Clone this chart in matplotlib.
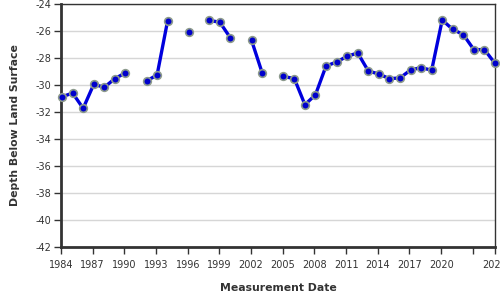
import numpy as np
import matplotlib
matplotlib.use("Agg")
import matplotlib.pyplot as plt

# measurement dates (decimal years) and depth below land surface (ft); NaN = no reading
dates = [1984.1, 1985.1, 1986.1, 1987.1, 1988.1, 1989.1, 1990.1, 1991.1,
         1992.1, 1993.1, 1994.1, 1995.1, 1996.1, 1997.1, 1998.0, 1999.05,
         2000.05, 2001.05, 2002.05, 2003.05, 2004.05, 2005.05, 2006.1, 2007.1,
         2008.1, 2009.1, 2010.1, 2011.1, 2012.1, 2013.1, 2014.1, 2015.1,
         2016.1, 2017.1, 2018.1, 2019.1, 2020.1, 2021.1, 2022.1, 2023.1,
         2024.1, 2025.1]
depths = [-30.87, -30.6, -31.73, -29.95, -30.17, -29.53, -29.1, np.nan,
          -29.7, -29.26, -25.23, np.nan, -26.1, np.nan, -25.2, -25.36,
          -26.52, np.nan, -26.7, -29.1, np.nan, -29.36, -29.53, -31.46,
          -30.72, -28.59, -28.3, -27.87, -27.63, -28.96, -29.19, -29.53,
          -29.48, -28.89, -28.71, -28.91, -25.19, -25.88, -26.27, -27.38,
          -27.38, -28.4]

x_ticks = [1984, 1987, 1990, 1993, 1996, 1999, 2002, 2005, 2008, 2011,
           2014, 2017, 2020, 2023, 2025.1]
x_tick_labels = ["1984", "1987", "1990", "1993", "1996", "1999", "2002",
                 "2005", "2008", "2011", "2014", "2017", "2020", "", "2025"]
y_ticks = list(range(-42, -23, 2))

plt.rcParams["font.family"] = ["DejaVu Sans"]

fig = plt.figure(figsize=(5, 3), dpi=100)
ax = fig.add_axes([0.122, 0.1767, 0.868, 0.81])

ax.plot(dates, depths, color="#0000dd", linewidth=2.4, marker="o",
        markersize=5.5, markerfacecolor="#0000cc", markeredgecolor="#8c9a8c",
        markeredgewidth=1.2, clip_on=False, zorder=3)

ax.set_xlim(1984.0, 2025.1)
ax.set_ylim(-42, -24)
ax.set_xticks(x_ticks)
ax.set_xticklabels(x_tick_labels)
ax.set_yticks(y_ticks)
ax.set_yticklabels([str(v) for v in y_ticks])

ax.grid(axis="y", color="#d6d6d6", linewidth=1)
ax.set_axisbelow(True)

for side in ["left", "bottom"]:
    ax.spines[side].set_linewidth(2)
    ax.spines[side].set_color("#333333")
for side in ["top", "right"]:
    ax.spines[side].set_linewidth(1)
    ax.spines[side].set_color("#333333")

ax.tick_params(axis="both", length=5, width=1, color="#333333",
               labelsize=7, labelcolor="#333333")
ax.tick_params(axis="x", pad=4.5)
ax.tick_params(axis="y", pad=2)

ax.set_ylabel("Depth Below Land Surface", fontsize=7.8, fontweight="bold",
              color="#333333", labelpad=11)
ax.set_xlabel("Measurement Date", fontsize=7.8, fontweight="bold",
              color="#333333", labelpad=9)

fig.savefig("out.png", dpi=100)
